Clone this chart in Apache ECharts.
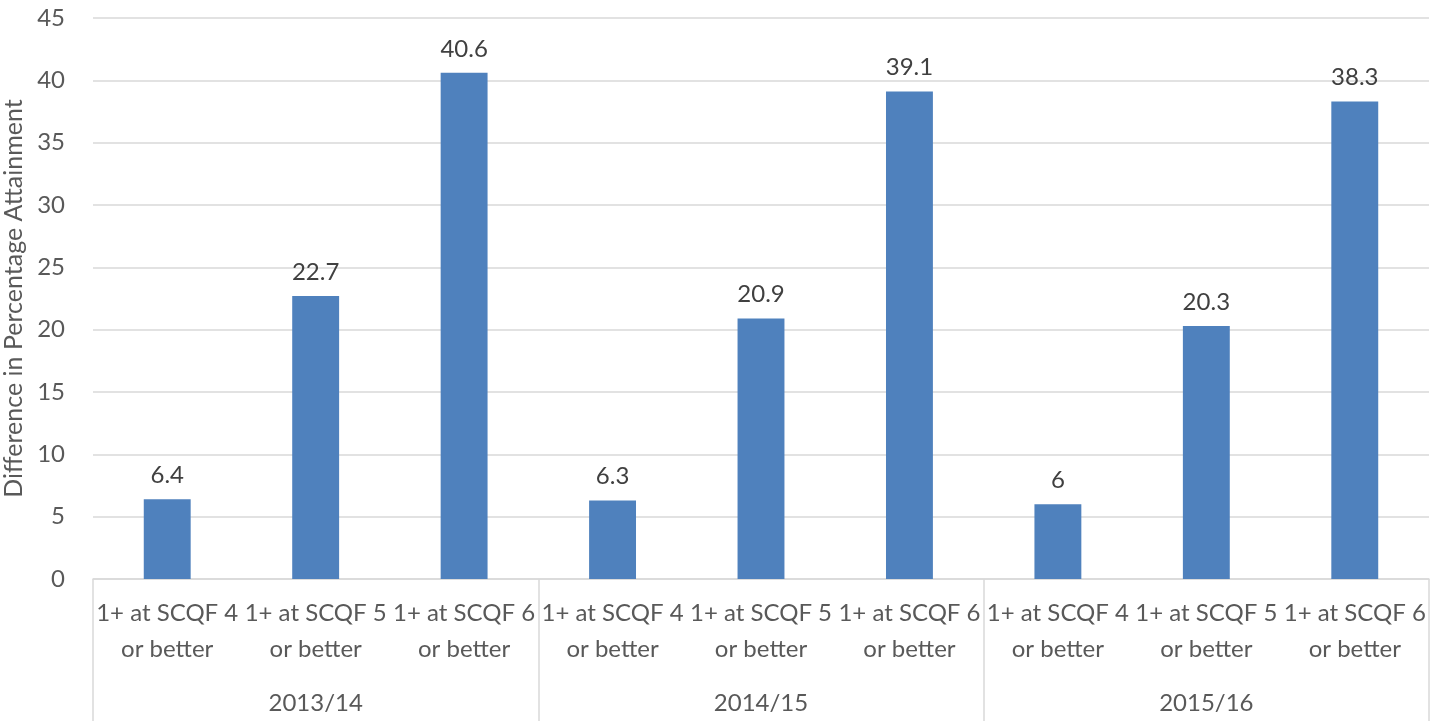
<!DOCTYPE html>
<html><head><meta charset="utf-8">
<script src="https://cdn.jsdelivr.net/npm/echarts@6/dist/echarts.min.js"></script>
<style>html,body{margin:0;padding:0;background:#fff}#c{width:1431px;height:721px}</style>
</head><body><div id="c"></div>
<script>
const categories = ["1+ at SCQF 4\nor better","1+ at SCQF 5\nor better","1+ at SCQF 6\nor better",
                    "1+ at SCQF 4\nor better","1+ at SCQF 5\nor better","1+ at SCQF 6\nor better",
                    "1+ at SCQF 4\nor better","1+ at SCQF 5\nor better","1+ at SCQF 6\nor better"];
const years = ["2013/14","2014/15","2015/16"];
const values = [6.4,22.7,40.6,6.3,20.9,39.1,6,20.3,38.3];
const yTicks = {min:0,max:45,interval:5};
const yName = "Difference in Percentage Attainment";
const FONT = "Lato";
const chart = echarts.init(document.getElementById('c'));
chart.setOption({
  animation:false,
  textStyle:{fontFamily:FONT},
  grid:{left:93,right:2,top:18,bottom:142,containLabel:false,outerBoundsMode:'none'},
  xAxis:[{
    type:'category',data:categories,position:'bottom',
    axisLine:{show:true,lineStyle:{color:'#d9d9d9',width:1.5}},
    axisTick:{show:false},
    axisLabel:{interval:0,fontSize:24,color:'#595959',lineHeight:36,margin:16,fontFamily:FONT}
  },{
    type:'category',data:years,position:'bottom',offset:0,
    axisLine:{show:false},
    axisTick:{show:true,length:142,alignWithLabel:false,lineStyle:{color:'#d9d9d9',width:1.5}},
    axisLabel:{interval:0,fontSize:24,color:'#595959',margin:112,fontFamily:FONT},
    splitLine:{show:false}
  }],
  yAxis:{
    type:'value',min:yTicks.min,max:yTicks.max,interval:yTicks.interval,
    name:yName,nameLocation:'middle',nameGap:66,nameRotate:90,
    nameTextStyle:{fontSize:25,color:'#595959',fontFamily:FONT},
    axisLine:{show:false},axisTick:{show:false},
    axisLabel:{fontSize:24,color:'#595959',margin:28,fontFamily:FONT},
    splitLine:{lineStyle:{color:'#d9d9d9',width:1.5}}
  },
  series:[{
    type:'bar',data:values,xAxisIndex:0,barWidth:'31.6%',
    itemStyle:{color:'#4f81bd'},
    label:{show:true,position:'top',distance:12,fontSize:24,color:'#404040',fontFamily:FONT}
  }]
});
</script></body></html>
